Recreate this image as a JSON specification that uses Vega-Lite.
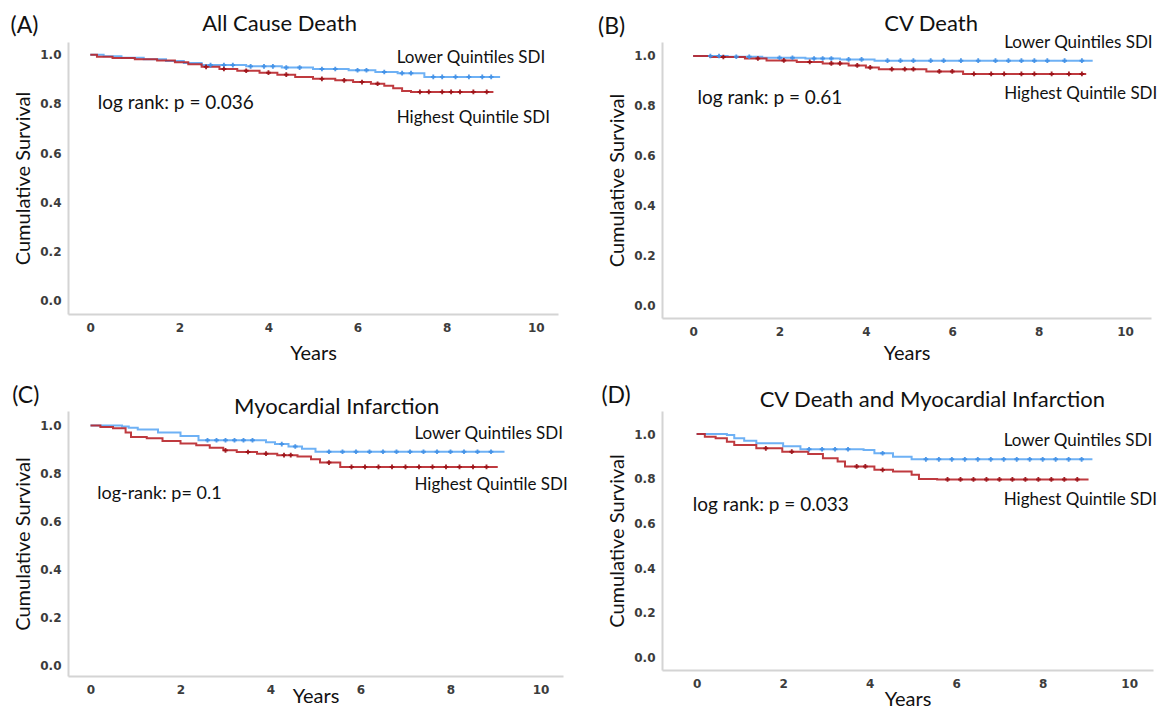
{
  "$schema": "https://vega.github.io/schema/vega-lite/v6.json",
  "background": "white",
  "padding": {"left": 10, "top": 12, "right": 5, "bottom": 0},
  "columns": 2,
  "bounds": "flush",
  "spacing": {"row": 93, "column": 99},
  "resolve": {"scale": {"x": "independent", "y": "independent"}},
  "config": {
    "view": {"stroke": null},
    "axis": {"grid": false, "ticks": false, "tickSize": 0, "domainColor": "#d4d4d4", "domainWidth": 2, "labelFont": "DejaVu Sans", "labelFontWeight": "bold", "labelFontSize": 12, "labelColor": "#3c3c3c", "titleFont": "Lato", "titleFontSize": 20, "titleFontWeight": "normal", "titleColor": "#111111"},
    "axisX": {"labelPadding": 8, "titlePadding": 10},
    "axisY": {"labelPadding": 7, "titlePadding": 6},
    "text": {"font": "Lato", "color": "#111111"}
  },
  "datasets": {
    "km": [
      {"panel":"A","group":"Lower","t":0,"s":1},{"panel":"A","group":"Lower","t":0.3,"s":0.994},{"panel":"A","group":"Lower","t":0.7,"s":0.988},{"panel":"A","group":"Lower","t":1.2,"s":0.982},{"panel":"A","group":"Lower","t":1.7,"s":0.975},{"panel":"A","group":"Lower","t":2.1,"s":0.967},{"panel":"A","group":"Lower","t":2.5,"s":0.958},{"panel":"A","group":"Lower","t":3.5,"s":0.953},{"panel":"A","group":"Lower","t":4.3,"s":0.948},{"panel":"A","group":"Lower","t":5.0,"s":0.942},{"panel":"A","group":"Lower","t":5.8,"s":0.937},{"panel":"A","group":"Lower","t":6.4,"s":0.93},{"panel":"A","group":"Lower","t":6.9,"s":0.925},{"panel":"A","group":"Lower","t":7.5,"s":0.91},{"panel":"A","group":"Lower","t":9.2,"s":0.91},
      {"panel":"A","group":"Highest","t":0,"s":1},{"panel":"A","group":"Highest","t":0.15,"s":0.992},{"panel":"A","group":"Highest","t":0.5,"s":0.987},{"panel":"A","group":"Highest","t":1.0,"s":0.982},{"panel":"A","group":"Highest","t":1.5,"s":0.977},{"panel":"A","group":"Highest","t":1.9,"s":0.97},{"panel":"A","group":"Highest","t":2.2,"s":0.961},{"panel":"A","group":"Highest","t":2.5,"s":0.951},{"panel":"A","group":"Highest","t":2.9,"s":0.942},{"panel":"A","group":"Highest","t":3.3,"s":0.935},{"panel":"A","group":"Highest","t":3.8,"s":0.927},{"panel":"A","group":"Highest","t":4.2,"s":0.919},{"panel":"A","group":"Highest","t":4.6,"s":0.91},{"panel":"A","group":"Highest","t":5.0,"s":0.902},{"panel":"A","group":"Highest","t":5.5,"s":0.896},{"panel":"A","group":"Highest","t":5.9,"s":0.889},{"panel":"A","group":"Highest","t":6.3,"s":0.882},{"panel":"A","group":"Highest","t":6.6,"s":0.874},{"panel":"A","group":"Highest","t":6.8,"s":0.864},{"panel":"A","group":"Highest","t":7.0,"s":0.853},{"panel":"A","group":"Highest","t":7.2,"s":0.849},{"panel":"A","group":"Highest","t":9.05,"s":0.849},
      {"panel":"B","group":"Lower","t":0,"s":1},{"panel":"B","group":"Lower","t":0.8,"s":0.997},{"panel":"B","group":"Lower","t":1.6,"s":0.993},{"panel":"B","group":"Lower","t":2.6,"s":0.99},{"panel":"B","group":"Lower","t":3.4,"s":0.986},{"panel":"B","group":"Lower","t":4.2,"s":0.981},{"panel":"B","group":"Lower","t":9.25,"s":0.981},
      {"panel":"B","group":"Highest","t":0,"s":1},{"panel":"B","group":"Highest","t":0.4,"s":0.996},{"panel":"B","group":"Highest","t":1.2,"s":0.99},{"panel":"B","group":"Highest","t":1.7,"s":0.982},{"panel":"B","group":"Highest","t":2.4,"s":0.976},{"panel":"B","group":"Highest","t":3.0,"s":0.97},{"panel":"B","group":"Highest","t":3.6,"s":0.962},{"panel":"B","group":"Highest","t":4.0,"s":0.954},{"panel":"B","group":"Highest","t":4.3,"s":0.947},{"panel":"B","group":"Highest","t":5.4,"s":0.938},{"panel":"B","group":"Highest","t":6.25,"s":0.928},{"panel":"B","group":"Highest","t":9.1,"s":0.928},
      {"panel":"C","group":"Lower","t":0,"s":1},{"panel":"C","group":"Lower","t":0.7,"s":0.995},{"panel":"C","group":"Lower","t":0.85,"s":0.99},{"panel":"C","group":"Lower","t":1.05,"s":0.983},{"panel":"C","group":"Lower","t":1.5,"s":0.97},{"panel":"C","group":"Lower","t":2.0,"s":0.956},{"panel":"C","group":"Lower","t":2.4,"s":0.938},{"panel":"C","group":"Lower","t":3.9,"s":0.93},{"panel":"C","group":"Lower","t":4.1,"s":0.922},{"panel":"C","group":"Lower","t":4.4,"s":0.912},{"panel":"C","group":"Lower","t":4.7,"s":0.903},{"panel":"C","group":"Lower","t":5.0,"s":0.89},{"panel":"C","group":"Lower","t":9.2,"s":0.89},
      {"panel":"C","group":"Highest","t":0,"s":1},{"panel":"C","group":"Highest","t":0.22,"s":0.993},{"panel":"C","group":"Highest","t":0.5,"s":0.988},{"panel":"C","group":"Highest","t":0.78,"s":0.97},{"panel":"C","group":"Highest","t":0.9,"s":0.952},{"panel":"C","group":"Highest","t":1.25,"s":0.946},{"panel":"C","group":"Highest","t":1.6,"s":0.935},{"panel":"C","group":"Highest","t":2.0,"s":0.924},{"panel":"C","group":"Highest","t":2.35,"s":0.917},{"panel":"C","group":"Highest","t":2.65,"s":0.907},{"panel":"C","group":"Highest","t":2.95,"s":0.896},{"panel":"C","group":"Highest","t":3.25,"s":0.889},{"panel":"C","group":"Highest","t":3.7,"s":0.882},{"panel":"C","group":"Highest","t":4.15,"s":0.876},{"panel":"C","group":"Highest","t":4.6,"s":0.87},{"panel":"C","group":"Highest","t":4.9,"s":0.859},{"panel":"C","group":"Highest","t":5.1,"s":0.845},{"panel":"C","group":"Highest","t":5.55,"s":0.827},{"panel":"C","group":"Highest","t":9.05,"s":0.827},
      {"panel":"D","group":"Lower","t":0,"s":1},{"panel":"D","group":"Lower","t":0.7,"s":0.996},{"panel":"D","group":"Lower","t":0.87,"s":0.981},{"panel":"D","group":"Lower","t":1.1,"s":0.97},{"panel":"D","group":"Lower","t":1.38,"s":0.959},{"panel":"D","group":"Lower","t":2.0,"s":0.945},{"panel":"D","group":"Lower","t":2.4,"s":0.932},{"panel":"D","group":"Lower","t":3.86,"s":0.929},{"panel":"D","group":"Lower","t":4.11,"s":0.914},{"panel":"D","group":"Lower","t":4.54,"s":0.899},{"panel":"D","group":"Lower","t":4.97,"s":0.887},{"panel":"D","group":"Lower","t":9.15,"s":0.887},
      {"panel":"D","group":"Highest","t":0,"s":1},{"panel":"D","group":"Highest","t":0.19,"s":0.988},{"panel":"D","group":"Highest","t":0.44,"s":0.981},{"panel":"D","group":"Highest","t":0.7,"s":0.966},{"panel":"D","group":"Highest","t":0.87,"s":0.951},{"panel":"D","group":"Highest","t":1.38,"s":0.936},{"panel":"D","group":"Highest","t":1.98,"s":0.921},{"panel":"D","group":"Highest","t":2.58,"s":0.911},{"panel":"D","group":"Highest","t":2.92,"s":0.892},{"panel":"D","group":"Highest","t":3.26,"s":0.877},{"panel":"D","group":"Highest","t":3.43,"s":0.855},{"panel":"D","group":"Highest","t":4.11,"s":0.84},{"panel":"D","group":"Highest","t":4.54,"s":0.833},{"panel":"D","group":"Highest","t":4.97,"s":0.818},{"panel":"D","group":"Highest","t":5.14,"s":0.799},{"panel":"D","group":"Highest","t":5.56,"s":0.797},{"panel":"D","group":"Highest","t":9.06,"s":0.797}
    ],
    "cens": [
      {"panel":"A","group":"Lower","t":2.7,"s":0.958},{"panel":"A","group":"Lower","t":3.0,"s":0.958},{"panel":"A","group":"Lower","t":3.2,"s":0.958},{"panel":"A","group":"Lower","t":3.6,"s":0.953},{"panel":"A","group":"Lower","t":3.9,"s":0.953},{"panel":"A","group":"Lower","t":4.1,"s":0.953},{"panel":"A","group":"Lower","t":4.4,"s":0.948},{"panel":"A","group":"Lower","t":4.7,"s":0.948},{"panel":"A","group":"Lower","t":5.2,"s":0.942},{"panel":"A","group":"Lower","t":5.5,"s":0.942},{"panel":"A","group":"Lower","t":6.0,"s":0.937},{"panel":"A","group":"Lower","t":6.2,"s":0.937},{"panel":"A","group":"Lower","t":6.6,"s":0.93},{"panel":"A","group":"Lower","t":7.0,"s":0.925},{"panel":"A","group":"Lower","t":7.2,"s":0.925},{"panel":"A","group":"Lower","t":7.7,"s":0.91},{"panel":"A","group":"Lower","t":7.9,"s":0.91},{"panel":"A","group":"Lower","t":8.2,"s":0.91},{"panel":"A","group":"Lower","t":8.5,"s":0.91},{"panel":"A","group":"Lower","t":8.8,"s":0.91},{"panel":"A","group":"Lower","t":9.0,"s":0.91},
      {"panel":"A","group":"Highest","t":2.6,"s":0.951},{"panel":"A","group":"Highest","t":3.0,"s":0.942},{"panel":"A","group":"Highest","t":3.5,"s":0.935},{"panel":"A","group":"Highest","t":4.0,"s":0.927},{"panel":"A","group":"Highest","t":4.4,"s":0.919},{"panel":"A","group":"Highest","t":5.2,"s":0.902},{"panel":"A","group":"Highest","t":5.7,"s":0.896},{"panel":"A","group":"Highest","t":6.1,"s":0.889},{"panel":"A","group":"Highest","t":6.45,"s":0.882},{"panel":"A","group":"Highest","t":7.4,"s":0.849},{"panel":"A","group":"Highest","t":7.6,"s":0.849},{"panel":"A","group":"Highest","t":7.9,"s":0.849},{"panel":"A","group":"Highest","t":8.1,"s":0.849},{"panel":"A","group":"Highest","t":8.3,"s":0.849},{"panel":"A","group":"Highest","t":8.6,"s":0.849},{"panel":"A","group":"Highest","t":8.9,"s":0.849},
      {"panel":"B","group":"Lower","t":0.4,"s":1},{"panel":"B","group":"Lower","t":0.6,"s":1},{"panel":"B","group":"Lower","t":1.0,"s":0.997},{"panel":"B","group":"Lower","t":1.3,"s":0.997},{"panel":"B","group":"Lower","t":2.0,"s":0.993},{"panel":"B","group":"Lower","t":2.3,"s":0.993},{"panel":"B","group":"Lower","t":2.8,"s":0.99},{"panel":"B","group":"Lower","t":3.0,"s":0.99},{"panel":"B","group":"Lower","t":3.2,"s":0.99},{"panel":"B","group":"Lower","t":3.6,"s":0.986},{"panel":"B","group":"Lower","t":3.9,"s":0.986},{"panel":"B","group":"Lower","t":4.5,"s":0.981},{"panel":"B","group":"Lower","t":4.8,"s":0.981},{"panel":"B","group":"Lower","t":5.1,"s":0.981},{"panel":"B","group":"Lower","t":5.5,"s":0.981},{"panel":"B","group":"Lower","t":5.8,"s":0.981},{"panel":"B","group":"Lower","t":6.2,"s":0.981},{"panel":"B","group":"Lower","t":6.6,"s":0.981},{"panel":"B","group":"Lower","t":7.0,"s":0.981},{"panel":"B","group":"Lower","t":7.3,"s":0.981},{"panel":"B","group":"Lower","t":7.6,"s":0.981},{"panel":"B","group":"Lower","t":7.9,"s":0.981},{"panel":"B","group":"Lower","t":8.2,"s":0.981},{"panel":"B","group":"Lower","t":8.6,"s":0.981},{"panel":"B","group":"Lower","t":9.0,"s":0.981},
      {"panel":"B","group":"Highest","t":0.7,"s":0.996},{"panel":"B","group":"Highest","t":1.5,"s":0.99},{"panel":"B","group":"Highest","t":2.1,"s":0.982},{"panel":"B","group":"Highest","t":2.7,"s":0.976},{"panel":"B","group":"Highest","t":3.2,"s":0.97},{"panel":"B","group":"Highest","t":3.4,"s":0.97},{"panel":"B","group":"Highest","t":3.8,"s":0.962},{"panel":"B","group":"Highest","t":4.1,"s":0.954},{"panel":"B","group":"Highest","t":4.6,"s":0.947},{"panel":"B","group":"Highest","t":4.9,"s":0.947},{"panel":"B","group":"Highest","t":5.1,"s":0.947},{"panel":"B","group":"Highest","t":5.7,"s":0.938},{"panel":"B","group":"Highest","t":6.0,"s":0.938},{"panel":"B","group":"Highest","t":6.5,"s":0.928},{"panel":"B","group":"Highest","t":6.9,"s":0.928},{"panel":"B","group":"Highest","t":7.2,"s":0.928},{"panel":"B","group":"Highest","t":7.6,"s":0.928},{"panel":"B","group":"Highest","t":7.9,"s":0.928},{"panel":"B","group":"Highest","t":8.3,"s":0.928},{"panel":"B","group":"Highest","t":8.7,"s":0.928},{"panel":"B","group":"Highest","t":9.0,"s":0.928},
      {"panel":"C","group":"Lower","t":2.6,"s":0.938},{"panel":"C","group":"Lower","t":2.8,"s":0.938},{"panel":"C","group":"Lower","t":3.0,"s":0.938},{"panel":"C","group":"Lower","t":3.2,"s":0.938},{"panel":"C","group":"Lower","t":3.4,"s":0.938},{"panel":"C","group":"Lower","t":3.6,"s":0.938},{"panel":"C","group":"Lower","t":4.25,"s":0.922},{"panel":"C","group":"Lower","t":4.55,"s":0.912},{"panel":"C","group":"Lower","t":5.3,"s":0.89},{"panel":"C","group":"Lower","t":5.6,"s":0.89},{"panel":"C","group":"Lower","t":5.9,"s":0.89},{"panel":"C","group":"Lower","t":6.2,"s":0.89},{"panel":"C","group":"Lower","t":6.5,"s":0.89},{"panel":"C","group":"Lower","t":6.8,"s":0.89},{"panel":"C","group":"Lower","t":7.1,"s":0.89},{"panel":"C","group":"Lower","t":7.4,"s":0.89},{"panel":"C","group":"Lower","t":7.7,"s":0.89},{"panel":"C","group":"Lower","t":8.0,"s":0.89},{"panel":"C","group":"Lower","t":8.3,"s":0.89},{"panel":"C","group":"Lower","t":8.6,"s":0.89},{"panel":"C","group":"Lower","t":8.9,"s":0.89},
      {"panel":"C","group":"Highest","t":3.0,"s":0.896},{"panel":"C","group":"Highest","t":3.5,"s":0.889},{"panel":"C","group":"Highest","t":3.9,"s":0.882},{"panel":"C","group":"Highest","t":4.3,"s":0.876},{"panel":"C","group":"Highest","t":4.45,"s":0.876},{"panel":"C","group":"Highest","t":5.3,"s":0.845},{"panel":"C","group":"Highest","t":5.8,"s":0.827},{"panel":"C","group":"Highest","t":6.1,"s":0.827},{"panel":"C","group":"Highest","t":6.4,"s":0.827},{"panel":"C","group":"Highest","t":6.7,"s":0.827},{"panel":"C","group":"Highest","t":7.0,"s":0.827},{"panel":"C","group":"Highest","t":7.3,"s":0.827},{"panel":"C","group":"Highest","t":7.6,"s":0.827},{"panel":"C","group":"Highest","t":7.9,"s":0.827},{"panel":"C","group":"Highest","t":8.2,"s":0.827},{"panel":"C","group":"Highest","t":8.5,"s":0.827},{"panel":"C","group":"Highest","t":8.8,"s":0.827},
      {"panel":"D","group":"Lower","t":2.6,"s":0.932},{"panel":"D","group":"Lower","t":2.9,"s":0.932},{"panel":"D","group":"Lower","t":3.2,"s":0.932},{"panel":"D","group":"Lower","t":3.5,"s":0.932},{"panel":"D","group":"Lower","t":4.3,"s":0.914},{"panel":"D","group":"Lower","t":5.3,"s":0.887},{"panel":"D","group":"Lower","t":5.6,"s":0.887},{"panel":"D","group":"Lower","t":5.9,"s":0.887},{"panel":"D","group":"Lower","t":6.2,"s":0.887},{"panel":"D","group":"Lower","t":6.5,"s":0.887},{"panel":"D","group":"Lower","t":6.8,"s":0.887},{"panel":"D","group":"Lower","t":7.1,"s":0.887},{"panel":"D","group":"Lower","t":7.4,"s":0.887},{"panel":"D","group":"Lower","t":7.7,"s":0.887},{"panel":"D","group":"Lower","t":8.0,"s":0.887},{"panel":"D","group":"Lower","t":8.3,"s":0.887},{"panel":"D","group":"Lower","t":8.6,"s":0.887},{"panel":"D","group":"Lower","t":8.9,"s":0.887},
      {"panel":"D","group":"Highest","t":1.6,"s":0.936},{"panel":"D","group":"Highest","t":2.2,"s":0.921},{"panel":"D","group":"Highest","t":3.7,"s":0.855},{"panel":"D","group":"Highest","t":3.9,"s":0.855},{"panel":"D","group":"Highest","t":4.3,"s":0.84},{"panel":"D","group":"Highest","t":5.8,"s":0.797},{"panel":"D","group":"Highest","t":6.1,"s":0.797},{"panel":"D","group":"Highest","t":6.4,"s":0.797},{"panel":"D","group":"Highest","t":6.7,"s":0.797},{"panel":"D","group":"Highest","t":7.0,"s":0.797},{"panel":"D","group":"Highest","t":7.3,"s":0.797},{"panel":"D","group":"Highest","t":7.6,"s":0.797},{"panel":"D","group":"Highest","t":7.9,"s":0.797},{"panel":"D","group":"Highest","t":8.2,"s":0.797},{"panel":"D","group":"Highest","t":8.5,"s":0.797},{"panel":"D","group":"Highest","t":8.8,"s":0.797}
    ]
  },
  "concat": [
    {
      "width": 490, "height": 272,
      "layer": [
        {"data": {"name": "km"}, "transform": [{"filter": "datum.panel === 'A'"}],
         "mark": {"type": "line", "interpolate": "step-after", "strokeWidth": 2, "opacity": 0.9},
         "encoding": {
           "x": {"field": "t", "type": "quantitative", "scale": {"domain": [-0.5, 10.5], "nice": false, "zero": false}, "axis": {"values": [0, 2, 4, 6, 8, 10], "title": "Years"}},
           "y": {"field": "s", "type": "quantitative", "scale": {"domain": [-0.055, 1.052], "nice": false, "zero": false}, "axis": {"values": [0, 0.2, 0.4, 0.6, 0.8, 1], "format": ".1f", "title": "Cumulative Survival"}},
           "stroke": {"field": "group", "type": "nominal", "scale": {"domain": ["Lower", "Highest"], "range": ["#5ea8f4", "#b8252a"]}, "legend": null}}},
        {"data": {"name": "cens"}, "transform": [{"filter": "datum.panel === 'A'"}],
         "mark": {"type": "point", "shape": "cross", "filled": true, "size": 22, "opacity": 0.9, "strokeWidth": 0},
         "encoding": {"x": {"field": "t", "type": "quantitative"}, "y": {"field": "s", "type": "quantitative"},
           "fill": {"field": "group", "type": "nominal", "scale": {"domain": ["Lower", "Highest"], "range": ["#3f8fe6", "#9a1015"]}, "legend": null}}},
        {"data": {"values": [{}]}, "mark": {"type": "text", "fontSize": 23, "align": "left", "baseline": "middle"}, "encoding": {"x": {"datum": -1.79, "type": "quantitative"}, "y": {"datum": 1.116, "type": "quantitative"}, "text": {"value": "(A)"}}},
        {"data": {"values": [{}]}, "mark": {"type": "text", "fontSize": 22, "align": "center", "baseline": "middle"}, "encoding": {"x": {"datum": 4.25, "type": "quantitative"}, "y": {"datum": 1.126, "type": "quantitative"}, "text": {"value": "All Cause Death"}}},
        {"data": {"values": [{}]}, "mark": {"type": "text", "fontSize": 17, "align": "left", "baseline": "middle"}, "encoding": {"x": {"datum": 6.88, "type": "quantitative"}, "y": {"datum": 0.988, "type": "quantitative"}, "text": {"value": "Lower Quintiles SDI"}}},
        {"data": {"values": [{}]}, "mark": {"type": "text", "fontSize": 17, "align": "left", "baseline": "middle"}, "encoding": {"x": {"datum": 6.88, "type": "quantitative"}, "y": {"datum": 0.742, "type": "quantitative"}, "text": {"value": "Highest Quintile SDI"}}},
        {"data": {"values": [{}]}, "mark": {"type": "text", "fontSize": 19, "align": "left", "baseline": "middle"}, "encoding": {"x": {"datum": 0.17, "type": "quantitative"}, "y": {"datum": 0.803, "type": "quantitative"}, "text": {"value": "log rank: p = 0.036"}}}
      ]
    },
    {
      "width": 489, "height": 276,
      "layer": [
        {"data": {"name": "km"}, "transform": [{"filter": "datum.panel === 'B'"}],
         "mark": {"type": "line", "interpolate": "step-after", "strokeWidth": 2, "opacity": 0.9},
         "encoding": {
           "x": {"field": "t", "type": "quantitative", "scale": {"domain": [-0.72, 10.6], "nice": false, "zero": false}, "axis": {"values": [0, 2, 4, 6, 8, 10], "title": "Years", "titlePadding": 6}},
           "y": {"field": "s", "type": "quantitative", "scale": {"domain": [-0.05, 1.056], "nice": false, "zero": false}, "axis": {"values": [0, 0.2, 0.4, 0.6, 0.8, 1], "format": ".1f", "title": "Cumulative Survival"}},
           "stroke": {"field": "group", "type": "nominal", "scale": {"domain": ["Lower", "Highest"], "range": ["#5ea8f4", "#c43a44"]}, "legend": null}}},
        {"data": {"name": "cens"}, "transform": [{"filter": "datum.panel === 'B'"}],
         "mark": {"type": "point", "shape": "cross", "filled": true, "size": 22, "opacity": 0.9, "strokeWidth": 0},
         "encoding": {"x": {"field": "t", "type": "quantitative"}, "y": {"field": "s", "type": "quantitative"},
           "fill": {"field": "group", "type": "nominal", "scale": {"domain": ["Lower", "Highest"], "range": ["#3f8fe6", "#9a1015"]}, "legend": null}}},
        {"data": {"values": [{}]}, "mark": {"type": "text", "fontSize": 23, "align": "left", "baseline": "middle"}, "encoding": {"x": {"datum": -2.2, "type": "quantitative"}, "y": {"datum": 1.117, "type": "quantitative"}, "text": {"value": "(B)"}}},
        {"data": {"values": [{}]}, "mark": {"type": "text", "fontSize": 22, "align": "center", "baseline": "middle"}, "encoding": {"x": {"datum": 5.51, "type": "quantitative"}, "y": {"datum": 1.129, "type": "quantitative"}, "text": {"value": "CV Death"}}},
        {"data": {"values": [{}]}, "mark": {"type": "text", "fontSize": 17, "align": "left", "baseline": "middle"}, "encoding": {"x": {"datum": 7.2, "type": "quantitative"}, "y": {"datum": 1.051, "type": "quantitative"}, "text": {"value": "Lower Quintiles SDI"}}},
        {"data": {"values": [{}]}, "mark": {"type": "text", "fontSize": 17, "align": "left", "baseline": "middle"}, "encoding": {"x": {"datum": 7.2, "type": "quantitative"}, "y": {"datum": 0.849, "type": "quantitative"}, "text": {"value": "Highest Quintile SDI"}}},
        {"data": {"values": [{}]}, "mark": {"type": "text", "fontSize": 19, "align": "left", "baseline": "middle"}, "encoding": {"x": {"datum": 0.1, "type": "quantitative"}, "y": {"datum": 0.831, "type": "quantitative"}, "text": {"value": "log rank: p = 0.61"}}}
      ]
    },
    {
      "width": 495, "height": 265,
      "layer": [
        {"data": {"name": "km"}, "transform": [{"filter": "datum.panel === 'C'"}],
         "mark": {"type": "line", "interpolate": "step-after", "strokeWidth": 2, "opacity": 0.9},
         "encoding": {
           "x": {"field": "t", "type": "quantitative", "scale": {"domain": [-0.5, 10.5], "nice": false, "zero": false}, "axis": {"values": [0, 2, 4, 6, 8, 10], "title": "Years", "titlePadding": -9}},
           "y": {"field": "s", "type": "quantitative", "scale": {"domain": [-0.045, 1.06], "nice": false, "zero": false}, "axis": {"values": [0, 0.2, 0.4, 0.6, 0.8, 1], "format": ".1f", "title": "Cumulative Survival"}},
           "stroke": {"field": "group", "type": "nominal", "scale": {"domain": ["Lower", "Highest"], "range": ["#38a8f2", "#b8252a"]}, "legend": null}}},
        {"data": {"name": "cens"}, "transform": [{"filter": "datum.panel === 'C'"}],
         "mark": {"type": "point", "shape": "cross", "filled": true, "size": 22, "opacity": 0.9, "strokeWidth": 0},
         "encoding": {"x": {"field": "t", "type": "quantitative"}, "y": {"field": "s", "type": "quantitative"},
           "fill": {"field": "group", "type": "nominal", "scale": {"domain": ["Lower", "Highest"], "range": ["#2f8fe6", "#9a1015"]}, "legend": null}}},
        {"data": {"values": [{}]}, "mark": {"type": "text", "fontSize": 23, "align": "left", "baseline": "middle"}, "encoding": {"x": {"datum": -1.74, "type": "quantitative"}, "y": {"datum": 1.123, "type": "quantitative"}, "text": {"value": "(C)"}}},
        {"data": {"values": [{}]}, "mark": {"type": "text", "fontSize": 22, "align": "center", "baseline": "middle"}, "encoding": {"x": {"datum": 5.47, "type": "quantitative"}, "y": {"datum": 1.076, "type": "quantitative"}, "text": {"value": "Myocardial Infarction"}}},
        {"data": {"values": [{}]}, "mark": {"type": "text", "fontSize": 17, "align": "left", "baseline": "middle"}, "encoding": {"x": {"datum": 7.2, "type": "quantitative"}, "y": {"datum": 0.966, "type": "quantitative"}, "text": {"value": "Lower Quintiles SDI"}}},
        {"data": {"values": [{}]}, "mark": {"type": "text", "fontSize": 17, "align": "left", "baseline": "middle"}, "encoding": {"x": {"datum": 7.2, "type": "quantitative"}, "y": {"datum": 0.75, "type": "quantitative"}, "text": {"value": "Highest Quintile SDI"}}},
        {"data": {"values": [{}]}, "mark": {"type": "text", "fontSize": 18, "align": "left", "baseline": "middle"}, "encoding": {"x": {"datum": 0.15, "type": "quantitative"}, "y": {"datum": 0.715, "type": "quantitative"}, "text": {"value": "log-rank: p= 0.1"}}}
      ]
    },
    {
      "width": 491, "height": 259,
      "layer": [
        {"data": {"name": "km"}, "transform": [{"filter": "datum.panel === 'D'"}],
         "mark": {"type": "line", "interpolate": "step-after", "strokeWidth": 2, "opacity": 0.9},
         "encoding": {
           "x": {"field": "t", "type": "quantitative", "scale": {"domain": [-0.8, 10.55], "nice": false, "zero": false}, "axis": {"values": [0, 2, 4, 6, 8, 10], "title": "Years", "titlePadding": 0}},
           "y": {"field": "s", "type": "quantitative", "scale": {"domain": [-0.055, 1.103], "nice": false, "zero": false}, "axis": {"values": [0, 0.2, 0.4, 0.6, 0.8, 1], "format": ".1f", "title": "Cumulative Survival"}},
           "stroke": {"field": "group", "type": "nominal", "scale": {"domain": ["Lower", "Highest"], "range": ["#5ea8f4", "#b8252a"]}, "legend": null}}},
        {"data": {"name": "cens"}, "transform": [{"filter": "datum.panel === 'D'"}],
         "mark": {"type": "point", "shape": "cross", "filled": true, "size": 22, "opacity": 0.9, "strokeWidth": 0},
         "encoding": {"x": {"field": "t", "type": "quantitative"}, "y": {"field": "s", "type": "quantitative"},
           "fill": {"field": "group", "type": "nominal", "scale": {"domain": ["Lower", "Highest"], "range": ["#3f8fe6", "#9a1015"]}, "legend": null}}},
        {"data": {"values": [{}]}, "mark": {"type": "text", "fontSize": 23, "align": "left", "baseline": "middle"}, "encoding": {"x": {"datum": -2.2, "type": "quantitative"}, "y": {"datum": 1.17, "type": "quantitative"}, "text": {"value": "(D)"}}},
        {"data": {"values": [{}]}, "mark": {"type": "text", "fontSize": 22, "align": "center", "baseline": "middle"}, "encoding": {"x": {"datum": 5.45, "type": "quantitative"}, "y": {"datum": 1.154, "type": "quantitative"}, "text": {"value": "CV Death and Myocardial Infarction"}}},
        {"data": {"values": [{}]}, "mark": {"type": "text", "fontSize": 17, "align": "left", "baseline": "middle"}, "encoding": {"x": {"datum": 7.1, "type": "quantitative"}, "y": {"datum": 0.97, "type": "quantitative"}, "text": {"value": "Lower Quintiles SDI"}}},
        {"data": {"values": [{}]}, "mark": {"type": "text", "fontSize": 17, "align": "left", "baseline": "middle"}, "encoding": {"x": {"datum": 7.1, "type": "quantitative"}, "y": {"datum": 0.704, "type": "quantitative"}, "text": {"value": "Highest Quintile SDI"}}},
        {"data": {"values": [{}]}, "mark": {"type": "text", "fontSize": 19, "align": "left", "baseline": "middle"}, "encoding": {"x": {"datum": -0.09, "type": "quantitative"}, "y": {"datum": 0.682, "type": "quantitative"}, "text": {"value": "log rank: p = 0.033"}}}
      ]
    }
  ]
}
